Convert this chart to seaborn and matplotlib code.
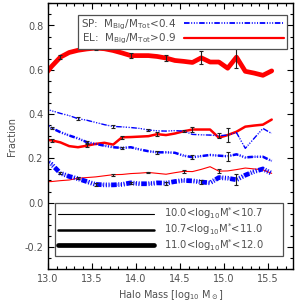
import matplotlib
matplotlib.use('Agg')
import matplotlib.pyplot as plt
import numpy as np
import pandas as pd
import seaborn as sns
from matplotlib.lines import Line2D
from matplotlib.ticker import MultipleLocator, FormatStrFormatter

# halo mass bins (first bin sits left of the axis and gets clipped)
halo_mass = [12.94, 13.04, 13.14, 13.24, 13.34, 13.44, 13.54, 13.64, 13.74, 13.84, 13.94,
             14.04, 14.14, 14.24, 14.34, 14.44, 14.54, 14.64, 14.74, 14.84, 14.94,
             15.04, 15.14, 15.24, 15.34, 15.44, 15.54]

# EL: M_Big/M_Tot > 0.9
el_high = [0.565, 0.615, 0.657, 0.678, 0.688, 0.694, 0.698, 0.695, 0.687, 0.676, 0.664,
           0.664, 0.664, 0.660, 0.653, 0.642, 0.638, 0.633, 0.654, 0.635, 0.635,
           0.607, 0.657, 0.593, 0.585, 0.575, 0.595]
el_mid = [0.285, 0.281, 0.272, 0.255, 0.250, 0.257, 0.265, 0.270, 0.262, 0.295, 0.296,
          0.298, 0.300, 0.309, 0.305, 0.312, 0.322, 0.330, 0.330, 0.330, 0.293,
          0.305, 0.320, 0.343, 0.348, 0.352, 0.375]
el_low = [0.094, 0.095, 0.099, 0.102, 0.110, 0.113, 0.116, 0.121, 0.126, 0.127, 0.131,
          0.133, 0.136, 0.132, 0.128, 0.135, 0.141, 0.140, 0.150, 0.162, 0.142,
          0.143, 0.149, 0.156, 0.152, 0.148, 0.132]

# SP: M_Big/M_Tot < 0.4
sp_low = [0.425, 0.415, 0.403, 0.393, 0.379, 0.372, 0.362, 0.352, 0.344, 0.342, 0.339,
          0.335, 0.328, 0.324, 0.323, 0.325, 0.323, 0.308, 0.306, 0.305, 0.302,
          0.305, 0.316, 0.245, 0.290, 0.335, 0.312]
sp_mid = [0.365, 0.337, 0.318, 0.303, 0.290, 0.273, 0.265, 0.257, 0.250, 0.247, 0.250,
          0.240, 0.232, 0.227, 0.227, 0.225, 0.212, 0.205, 0.210, 0.215, 0.212,
          0.209, 0.218, 0.204, 0.207, 0.207, 0.188]
sp_high = [0.200, 0.173, 0.133, 0.118, 0.108, 0.095, 0.082, 0.080, 0.080, 0.082, 0.089,
           0.085, 0.085, 0.089, 0.088, 0.095, 0.100, 0.098, 0.093, 0.089, 0.113,
           0.110, 0.103, 0.124, 0.140, 0.152, 0.132]

# error bars: (bin index, half size)
el_high_err = [(2, 0.008), (6, 0.010), (10, 0.010), (14, 0.012), (18, 0.030), (22, 0.050)]
el_mid_err = [(1, 0.006), (5, 0.006), (9, 0.008), (13, 0.008), (17, 0.012), (21, 0.030)]
el_low_err = [(4, 0.004), (8, 0.004), (12, 0.004), (16, 0.006), (20, 0.010)]
sp_low_err = [(4, 0.006), (8, 0.005), (12, 0.004), (16, 0.006), (20, 0.012)]
sp_mid_err = [(1, 0.006), (5, 0.006), (9, 0.006), (13, 0.006), (17, 0.010), (21, 0.020)]
sp_high_err = [(2, 0.006), (6, 0.005), (10, 0.005), (14, 0.007), (18, 0.010), (22, 0.025)]

sns.set_theme(style='ticks')
plt.rcParams['font.family'] = ['DejaVu Sans']
plt.rcParams['lines.scale_dashes'] = False
plt.rcParams['mathtext.default'] = 'regular'

grey = '#505050'
red = '#ff0000'
blue = '#0000ff'
sp_dash = (0, (4, 1.2, 0.7, 1.2, 0.7, 1.2, 0.7, 1.2))

fig = plt.figure(figsize=(3.06, 3.06), dpi=100)
ax = fig.add_axes([0.157, 0.121, 0.80, 0.868])

df = pd.DataFrame({'mass': halo_mass, 'el_high': el_high, 'el_mid': el_mid, 'el_low': el_low,
                   'sp_low': sp_low, 'sp_mid': sp_mid, 'sp_high': sp_high})

widths = {'low': 0.8, 'mid': 1.8, 'high': 3.4}
series = [('el_low', red, '-', widths['low'], el_low_err),
          ('el_mid', red, '-', widths['mid'], el_mid_err),
          ('el_high', red, '-', widths['high'], el_high_err),
          ('sp_low', blue, sp_dash, widths['low'] + 0.2, sp_low_err),
          ('sp_mid', blue, sp_dash, widths['mid'], sp_mid_err),
          ('sp_high', blue, sp_dash, widths['high'], sp_high_err)]

for name, col, ls, lw, errs in series:
    if col == blue:
        # light halo under the dashed blue lines
        sns.lineplot(data=df, x='mass', y=name, ax=ax, color='#9a9aff', lw=lw * 0.6,
                     linestyle=':', zorder=1)
    sns.lineplot(data=df, x='mass', y=name, ax=ax, color=col, lw=lw, linestyle=ls, zorder=2)

for name, col, ls, lw, errs in series:
    idx = [i for i, _ in errs]
    ax.errorbar(df['mass'].iloc[idx], df[name].iloc[idx], yerr=[e for _, e in errs],
                fmt='none', ecolor='#202020', elinewidth=0.8, capsize=1.5, capthick=0.8,
                zorder=4)

ax.set_xlim(13.0, 15.78)
ax.set_ylim(-0.3, 0.9)
ax.xaxis.set_major_locator(MultipleLocator(0.5))
ax.xaxis.set_minor_locator(MultipleLocator(0.1))
ax.yaxis.set_major_locator(MultipleLocator(0.2))
ax.yaxis.set_minor_locator(MultipleLocator(0.05))
ax.xaxis.set_major_formatter(FormatStrFormatter('%.1f'))
ax.yaxis.set_major_formatter(FormatStrFormatter('%.1f'))
ax.tick_params(which='both', direction='in', top=True, right=True, colors='black',
               labelcolor=grey, labelsize=7, width=0.8)
ax.tick_params(which='major', length=4)
ax.tick_params(which='minor', length=2)
for sp in ax.spines.values():
    sp.set_color('black')
    sp.set_linewidth(1.0)

ax.set_xlabel(r'Halo Mass [log$_{10}$ M$_\odot$]', fontsize=7, color=grey, labelpad=3)
ax.set_ylabel('Fraction', fontsize=7, color=grey, labelpad=5)

h1 = [Line2D([], [], color=blue, lw=1.3, linestyle=sp_dash),
      Line2D([], [], color=red, lw=1.6)]
leg1 = ax.legend(h1, [r'SP:  M$_{Big}$/M$_{Tot}$<0.4', r'EL:  M$_{Big}$/M$_{Tot}$>0.9'],
                 loc='upper right', bbox_to_anchor=(0.976, 0.957), markerfirst=False,
                 fontsize=7.5, handlelength=9.6, handletextpad=0.8, labelspacing=0.0,
                 borderpad=0.25, borderaxespad=0, frameon=True, fancybox=False,
                 edgecolor=grey, framealpha=1, labelcolor=grey)
leg1.get_frame().set_linewidth(0.9)
ax.add_artist(leg1)

h2 = [Line2D([], [], color='black', lw=widths['low']),
      Line2D([], [], color='black', lw=widths['mid']),
      Line2D([], [], color='black', lw=widths['high'])]
leg2 = ax.legend(h2, [r'10.0<log$_{10}$M$^{*}$<10.7', r'10.7<log$_{10}$M$^{*}$<11.0',
                      r'11.0<log$_{10}$M$^{*}$<12.0'],
                 loc='lower left', bbox_to_anchor=(0.029, 0.049, 0.93, 0.17), mode='expand',
                 fontsize=7.2, handlelength=9.6, handletextpad=1.0, labelspacing=0.0,
                 borderpad=0.3, borderaxespad=0, frameon=True, fancybox=False,
                 edgecolor=grey, framealpha=1, labelcolor=grey)
leg2.get_frame().set_linewidth(0.9)

fig.savefig('out.png', dpi=100)
